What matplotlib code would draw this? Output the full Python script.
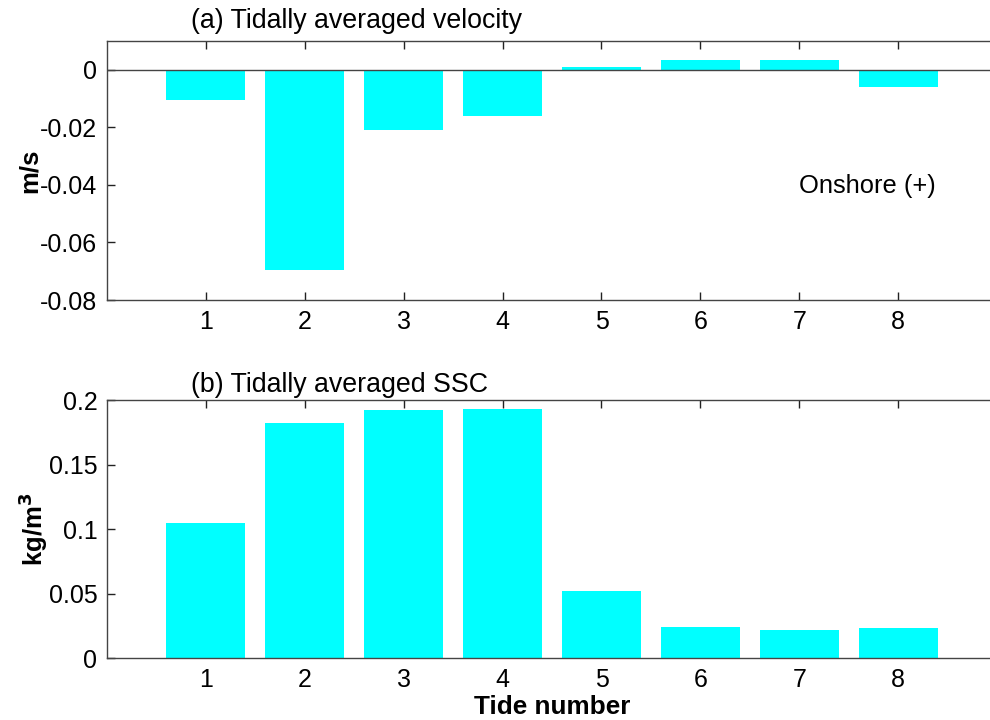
import matplotlib
matplotlib.use("Agg")
import matplotlib.pyplot as plt

# tidally averaged quantities for each tide
tides = [1, 2, 3, 4, 5, 6, 7, 8]
velocity = [-0.0105, -0.0695, -0.021, -0.016, 0.001, 0.0034, 0.0034, -0.006]  # m/s
ssc = [0.105, 0.182, 0.1925, 0.193, 0.0523, 0.0241, 0.0218, 0.0233]          # kg/m^3

plt.rcParams["font.family"] = ["Liberation Sans", "DejaVu Sans"]
plt.rcParams["font.size"] = 18

AXC = "#444444"

fig = plt.figure(figsize=(9.9, 7.2), dpi=100)
ax1 = fig.add_axes([0.1081, 0.5833, 0.899, 0.36])
ax2 = fig.add_axes([0.1081, 0.0861, 0.899, 0.3583])


def style(ax):
    ax.set_xlim(0, 9)
    ax.set_xticks(tides)
    for s in ax.spines.values():
        s.set_color(AXC)
        s.set_linewidth(1.0)
    ax.spines["right"].set_visible(False)
    ax.tick_params(direction="in", length=6, width=1, color="#222222",
                   top=True, right=False, labelsize=18, pad=7)


# (a) velocity
ax1.bar(tides, velocity, width=0.8, color="#00ffff", edgecolor="none", zorder=2)
ax1.axhline(0, color=AXC, lw=1.0, zorder=3)
ax1.set_ylim(-0.08, 0.01)
ax1.set_yticks([-0.08, -0.06, -0.04, -0.02, 0])
ax1.set_yticklabels(["-0.08", "-0.06", "-0.04", "-0.02", "0"])
style(ax1)
ax1.set_ylabel("m/s", fontweight="bold", fontsize=18.5, labelpad=-1)
ax1.text(0.85, 0.0122, "(a) Tidally averaged velocity", ha="left", va="bottom",
         fontsize=19.3, clip_on=False)
ax1.text(7.0, -0.0405, "Onshore (+)", ha="left", va="center", fontsize=18.4)

# (b) suspended sediment concentration
ax2.bar(tides, ssc, width=0.8, color="#00ffff", edgecolor="none", zorder=2)
ax2.set_ylim(0, 0.2)
ax2.set_yticks([0, 0.05, 0.1, 0.15, 0.2])
ax2.set_yticklabels(["0", "0.05", "0.1", "0.15", "0.2"])
style(ax2)
ax2.set_ylabel("kg/m$^\\mathbf{3}$", fontweight="bold", fontsize=18.5, labelpad=-1)
ax2.set_xlabel("Tide number", fontweight="bold", fontsize=18.8, labelpad=2)
ax2.text(0.85, 0.2015, "(b) Tidally averaged SSC", ha="left", va="bottom",
         fontsize=19.3, clip_on=False)

fig.savefig("out.png", dpi=100)
plt.close(fig)
